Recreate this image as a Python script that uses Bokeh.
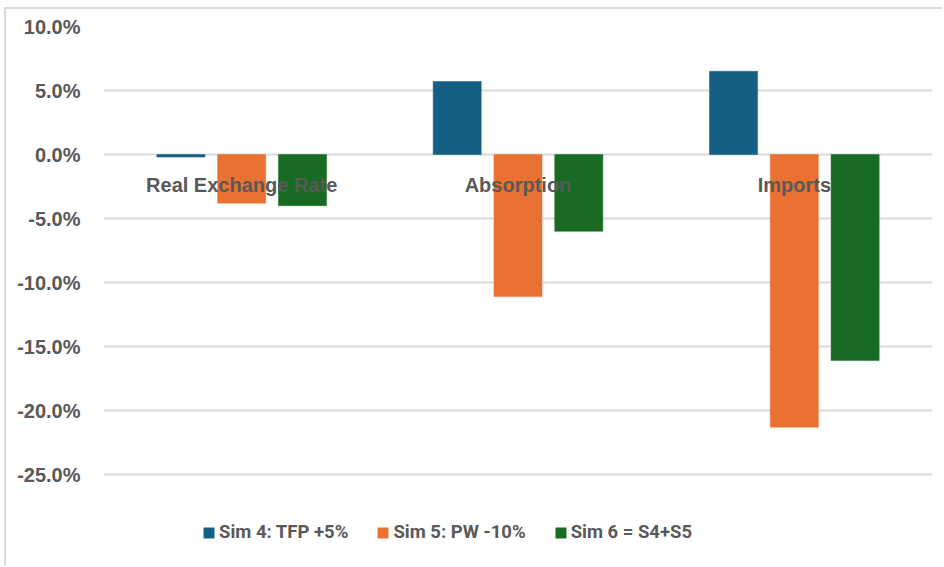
from bokeh.plotting import figure
from bokeh.models import (ColumnDataSource, Legend, LegendItem, Range1d,
                          PrintfTickFormatter, FixedTicker)
from bokeh.transform import dodge
from bokeh.core.properties import value
from bokeh.embed import file_html
from bokeh.resources import INLINE

# Percent change by indicator for each simulation
categories = ["Real Exchange Rate", "Absorption", "Imports"]
sim4_tfp = [-0.2, 5.7, 6.5]
sim5_pw = [-3.8, -11.1, -21.3]
sim6_combined = [-4.0, -6.0, -16.1]
series_names = ["Sim 4: TFP +5%", "Sim 5: PW -10%", "Sim 6 = S4+S5"]
y_ticks = [-25, -20, -15, -10, -5, 0, 5, 10]

colors = ["#156082", "#E97132", "#196B24"]
text_color = "#595959"
grid_color = "#d9d9d9"

source = ColumnDataSource(dict(cat=categories, s4=sim4_tfp, s5=sim5_pw, s6=sim6_combined,
                               zero=[0] * len(categories)))

# The value axis runs from -25% to 10% over 448 px; the frame is stretched
# further down so the legend underneath can live inside it.
W, H = 938, 558
top_pad = 17
axis_px = 448
y_hi, y_lo_axis = 10, -25
frame_px = H - top_pad
y_lo = y_hi - (y_hi - y_lo_axis) * frame_px / axis_px

p = figure(width=W, height=H, x_range=categories, y_range=Range1d(y_lo, y_hi),
           output_backend="svg", toolbar_location=None,
           min_border_left=97, min_border_right=12, min_border_top=top_pad, min_border_bottom=0)
p.styles = {"border-top": "2px solid #d9d9d9", "border-left": "2px solid #d9d9d9"}
p.margin = (7, 0, 0, 4)

p.outline_line_color = None
p.background_fill_color = "white"
p.border_fill_color = "white"

offsets = [-0.22, 0.0, 0.22]
bar_w = 0.174
renderers = []
for col, off, c in zip(["s4", "s5", "s6"], offsets, colors):
    r = p.vbar(x=dodge("cat", off, range=p.x_range), top=col, bottom=0, width=bar_w,
               source=source, fill_color=c, line_color=c, line_width=0.5)
    renderers.append(r)

# category names sit just under the zero line, on top of the bars
p.text(x="cat", y="zero", text="cat", source=source, y_offset=30,
       text_align="center", text_baseline="middle",
       text_font=value("Liberation Sans"), text_font_style="bold",
       text_font_size="20px", text_color=text_color)

p.xaxis.visible = False
p.xgrid.grid_line_color = None
p.ygrid.grid_line_color = grid_color
p.ygrid.grid_line_width = 2
p.yaxis.ticker = FixedTicker(ticks=y_ticks)
p.yaxis.formatter = PrintfTickFormatter(format="%.1f%%")
p.yaxis.axis_line_color = None
p.yaxis.major_tick_line_color = None
p.yaxis.minor_tick_line_color = None
p.yaxis.major_label_standoff = 17
p.yaxis.major_label_text_font = "Liberation Sans"
p.yaxis.major_label_text_font_style = "bold"
p.yaxis.major_label_text_font_size = "20px"
p.yaxis.major_label_text_color = text_color

legend = Legend(items=[LegendItem(label=n, renderers=[r]) for n, r in zip(series_names, renderers)],
                orientation="horizontal", location=(99, 24),
                padding=0, margin=0, spacing=28, label_standoff=4,
                glyph_width=13, glyph_height=13,
                label_text_font="Roboto", label_text_font_style="bold",
                label_text_font_size="18.5px", label_text_color=text_color,
                border_line_color=None, background_fill_alpha=0)
p.add_layout(legend, "center")

open("out.html", "w").write(file_html(p, INLINE))
